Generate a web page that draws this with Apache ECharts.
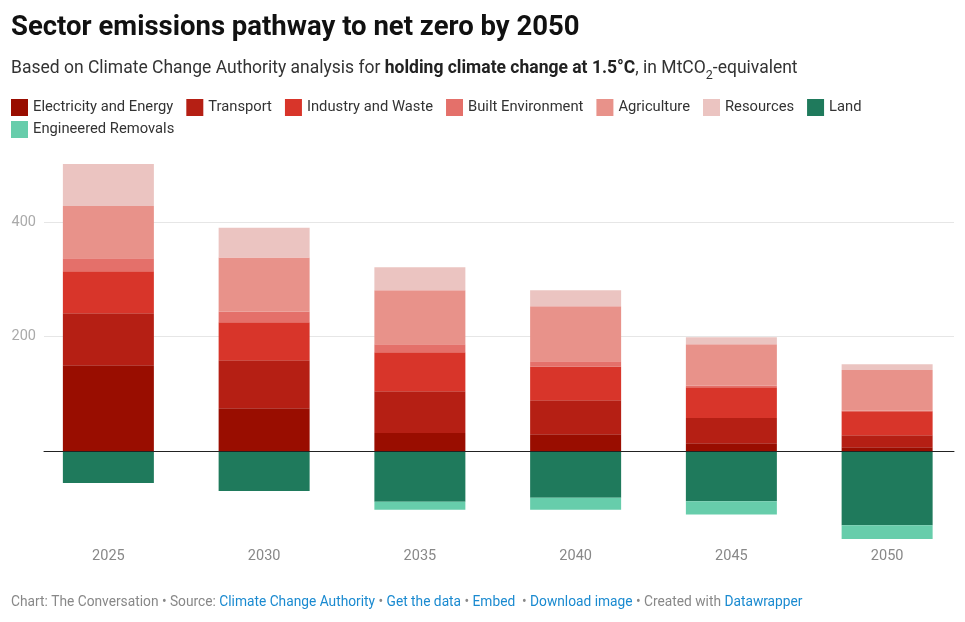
<!DOCTYPE html>
<html>
<head>
<meta charset="utf-8">
<style>
  html, body { margin: 0; padding: 0; background: #fff; }
  #chart { width: 965px; height: 622px; }
</style>
<script src="https://cdn.jsdelivr.net/npm/echarts@6/dist/echarts.min.js"></script>
</head>
<body>
<div id="chart"></div>
<script>
const years = ['2025', '2030', '2035', '2040', '2045', '2050'];
const electricity = [150, 75, 32, 30, 14, 7];
const transport = [91, 84, 73, 59, 44, 21];
const industry = [73, 66, 68, 59, 54, 42];
const builtEnv = [23, 19, 14, 9, 3, 1];
const agriculture = [91, 94, 94, 96, 72, 71];
const resources = [73, 52, 40, 28, 12, 10];
const land = [-55, -69, -88, -81, -87, -129];
const engineered = [0, 0, -14, -21, -23, -24];
const yTickLabels = [200, 400];

const seriesDefs = [
  { name: 'Electricity and Energy', data: electricity, color: '#990d00' },
  { name: 'Transport', data: transport, color: '#b51f14' },
  { name: 'Industry and Waste', data: industry, color: '#d8352a' },
  { name: 'Built Environment', data: builtEnv, color: '#e4706a' },
  { name: 'Agriculture', data: agriculture, color: '#e8928a' },
  { name: 'Resources', data: resources, color: '#ebc4c1' },
  { name: 'Land', data: land, color: '#1f7a5c' },
  { name: 'Engineered Removals', data: engineered, color: '#67cdab' }
];

const Y_MIN = -160, Y_MAX = 520;
const GRID_TOP = 153.2, GRID_H = 389.9;
const FONT = 'Roboto, "Noto Sans", sans-serif';

const chart = echarts.init(document.getElementById('chart'));

const series = seriesDefs.map(s => ({
  name: s.name,
  type: 'bar',
  stack: 'total',
  xAxisIndex: 0,
  yAxisIndex: 0,
  barWidth: 91,
  itemStyle: { color: s.color },
  emphasis: { disabled: true },
  data: s.data
}));

series.push({
  type: 'line',
  xAxisIndex: 1,
  yAxisIndex: 1,
  data: [],
  silent: true
});

const legendText = { fontFamily: FONT, fontSize: 14.75, color: '#333' };

chart.setOption({
  animation: false,
  textStyle: { fontFamily: FONT },
  legend: [
    {
      left: 11, top: 99, padding: 0, itemWidth: 17, itemHeight: 17, itemGap: 13,
      icon: 'rect', selectedMode: false,
      textStyle: legendText,
      data: seriesDefs.slice(0, 7).map(s => s.name)
    },
    {
      left: 11, top: 121, padding: 0, itemWidth: 17, itemHeight: 17, itemGap: 13,
      icon: 'rect', selectedMode: false,
      textStyle: legendText,
      data: seriesDefs.slice(7).map(s => s.name)
    }
  ],
  grid: [
    { left: 30.5, width: 936, top: GRID_TOP, height: GRID_H },
    { left: 44, right: 11, top: GRID_TOP, height: GRID_H }
  ],
  xAxis: [
    {
      type: 'category', gridIndex: 0, data: years,
      axisLine: { show: false }, axisTick: { show: false },
      axisLabel: { margin: 6, color: '#888', fontSize: 14.5, fontFamily: FONT },
      splitLine: { show: false }
    },
    {
      type: 'value', gridIndex: 1, min: 0, max: 1, z: 10,
      axisLine: { show: true, onZero: true, lineStyle: { color: '#222', width: 1 } },
      axisTick: { show: false }, axisLabel: { show: false }, splitLine: { show: false }
    }
  ],
  yAxis: [
    {
      type: 'value', gridIndex: 0, min: Y_MIN, max: Y_MAX,
      axisLine: { show: false }, axisTick: { show: false },
      axisLabel: { show: false }, splitLine: { show: false }
    },
    {
      type: 'value', gridIndex: 1, min: Y_MIN, max: Y_MAX, interval: 40, z: 0,
      axisLine: { show: false }, axisTick: { show: false },
      axisLabel: {
        margin: 8, color: '#aaa', fontSize: 14.5, fontFamily: FONT,
        formatter: v => (yTickLabels.indexOf(v) >= 0 ? String(v) : '')
      },
      splitLine: {
        show: true,
        lineStyle: { color: ['transparent', 'transparent', 'transparent', 'transparent', '#e6e6e6'], width: 1 }
      }
    }
  ],
  graphic: [
    {
      type: 'text', left: 11, top: 14,
      style: {
        text: 'Sector emissions pathway to net zero by 2050',
        font: 'bold 27.5px Roboto, sans-serif', fill: '#111'
      }
    },
    {
      type: 'text', left: 11, top: 60,
      style: {
        text: '{n|Based on Climate Change Authority analysis for }{b|holding climate change at 1.5°C}{n|, in MtCO}{s|2}{n|-equivalent}',
        rich: {
          n: { fontFamily: FONT, fontSize: 17.5, fill: '#333', lineHeight: 24, verticalAlign: 'bottom' },
          b: { fontFamily: FONT, fontSize: 17.5, fontWeight: 'bold', fill: '#222', lineHeight: 24, verticalAlign: 'bottom' },
          s: { fontFamily: FONT, fontSize: 12.5, fill: '#333', lineHeight: 24, verticalAlign: 'bottom', padding: [0, 0, -4, 0] }
        }
      }
    },
    {
      type: 'text', left: 11, top: 596,
      style: {
        text: '{g|Chart: The Conversation • Source: }{l|Climate Change Authority}{g| • }{l|Get the data}{g| • }{l|Embed }{g| • }{l|Download image}{g| • Created with }{l|Datawrapper}',
        rich: {
          g: { fontFamily: FONT, fontSize: 13.75, fill: '#888' },
          l: { fontFamily: FONT, fontSize: 13.75, fill: '#1a8ad0' }
        }
      }
    }
  ],
  series: series
});
</script>
</body>
</html>
